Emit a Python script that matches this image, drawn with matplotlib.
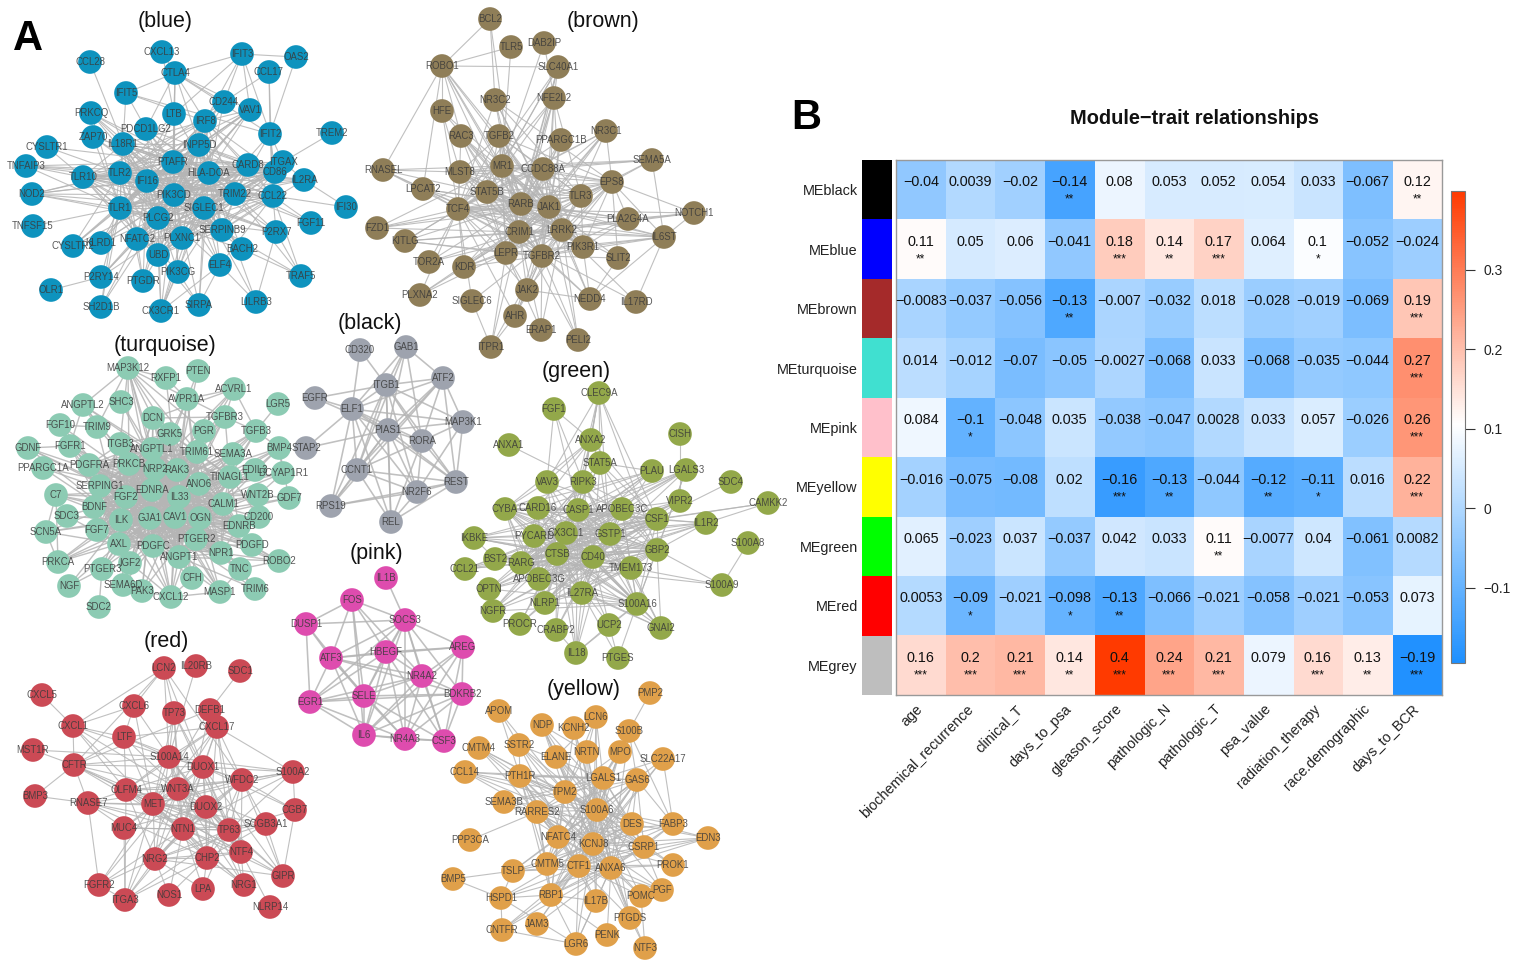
import matplotlib
matplotlib.use("Agg")
import matplotlib.pyplot as plt
import numpy as np
from matplotlib.collections import LineCollection
from matplotlib.colors import LinearSegmentedColormap, Normalize
from matplotlib.cm import ScalarMappable
from matplotlib.transforms import ScaledTranslation

plt.rcParams['font.family'] = ['Liberation Sans', 'DejaVu Sans']
W, H = 1514, 967

# ---------------------------------------------------------------- panel B data
traits = ["age", "biochemical_recurrence", "clinical_T", "days_to_psa", "gleason_score", "pathologic_N",
          "pathologic_T", "psa_value", "radiation_therapy", "race.demographic", "days_to_BCR"]
modules = ["MEblack", "MEblue", "MEbrown", "MEturquoise", "MEpink", "MEyellow", "MEgreen", "MEred", "MEgrey"]
module_colors = ["#000000", "#0000FF", "#A52A2A", "#40E0D0", "#FFC0CB", "#FFFF00", "#00FF00", "#FF0000", "#BEBEBE"]
corr = [
    [-0.04, 0.0039, -0.02, -0.14, 0.08, 0.053, 0.052, 0.054, 0.033, -0.067, 0.12],
    [0.11, 0.05, 0.06, -0.041, 0.18, 0.14, 0.17, 0.064, 0.1, -0.052, -0.024],
    [-0.0083, -0.037, -0.056, -0.13, -0.007, -0.032, 0.018, -0.028, -0.019, -0.069, 0.19],
    [0.014, -0.012, -0.07, -0.05, -0.0027, -0.068, 0.033, -0.068, -0.035, -0.044, 0.27],
    [0.084, -0.1, -0.048, 0.035, -0.038, -0.047, 0.0028, 0.033, 0.057, -0.026, 0.26],
    [-0.016, -0.075, -0.08, 0.02, -0.16, -0.13, -0.044, -0.12, -0.11, 0.016, 0.22],
    [0.065, -0.023, 0.037, -0.037, 0.042, 0.033, 0.11, -0.0077, 0.04, -0.061, 0.0082],
    [0.0053, -0.09, -0.021, -0.098, -0.13, -0.066, -0.021, -0.058, -0.021, -0.053, 0.073],
    [0.16, 0.2, 0.21, 0.14, 0.4, 0.24, 0.21, 0.079, 0.16, 0.13, -0.19],
]
stars = [
    ["", "", "", "**", "", "", "", "", "", "", "**"],
    ["**", "", "", "", "***", "**", "***", "", "*", "", ""],
    ["", "", "", "**", "", "", "", "", "", "", "***"],
    ["", "", "", "", "", "", "", "", "", "", "***"],
    ["", "*", "", "", "", "", "", "", "", "", "***"],
    ["", "", "", "", "***", "**", "", "**", "*", "", "***"],
    ["", "", "", "", "", "", "**", "", "", "", ""],
    ["", "*", "", "*", "**", "", "", "", "", "", ""],
    ["***", "***", "***", "**", "***", "***", "***", "", "***", "**", "***"],
]
cbar_ticks = [-0.1, 0, 0.1, 0.2, 0.3]
cbar_range = (-0.195, 0.399)
cbar_white = 0.105

# ---------------------------------------------------------------- panel A data
blue_names = "CCL28 CXCL13 IFIT3 OAS2 CTLA4 CCL17 IFIT5 CD244 VAV1 PRKCQ LTB IRF8 PDCD1LG2 IFIT2 TREM2 ZAP70 IL18R1 INPP5D CYSLTR1 TNFAIP3 PTAFR CARD8 ITGAX CD86 TLR10 TLR2 IFI16 HLA-DOA IL2RA NOD2 PIK3CD TRIM22 CCL22 TLR1 SIGLEC1 IFI30 PLCG2 FGF11 TNFSF15 SERPINB9 P2RX7 NFATC2 PLXNC1 KLRD1 CYSLTR2 BACH2 UBD ELF4 P2RY14 PIK3CG PTGDR TRAF5 OLR1 SH2D1B SIRPA LILRB3 CX3CR1".split()
blue_x = [90, 162, 242, 296, 175, 269, 126, 224, 250, 91, 174, 205, 146, 270, 332, 93, 123, 199, 47, 26, 173, 248, 283, 275, 83, 120, 147, 209, 304, 32, 174, 235, 273, 120, 204, 346, 158, 311, 33, 222, 276, 137, 182, 101, 73, 242, 158, 220, 101, 178, 143, 301, 51, 101, 199, 256, 161]
blue_y = [62, 52, 54, 57, 73, 72, 93, 102, 110, 113, 114, 121, 129, 134, 133, 137, 144, 145, 147, 166, 162, 165, 162, 172, 177, 173, 181, 173, 180, 194, 195, 194, 196, 208, 208, 207, 218, 223, 226, 230, 232, 239, 238, 243, 246, 249, 255, 265, 277, 272, 281, 276, 290, 307, 305, 302, 311]
blue_core = "TLR2 IFI16 PTAFR HLA-DOA PIK3CD TRIM22 TLR1 PLCG2 SIGLEC1 SERPINB9 PLXNC1 NFATC2 UBD INPP5D CARD8 CD86 IL18R1 IRF8 CCL22 TLR10".split()
blue_links = {
    "CCL28": "IL18R1", "CXCL13": "CTLA4 LTB", "IFIT3": "OAS2 CTLA4 VAV1 CD244 IFIT2 LTB IRF8", "OAS2": "IFIT2",
    "CTLA4": "IFIT5 LTB IRF8 PTAFR CD244 VAV1 PDCD1LG2 IFIT2 PIK3CD HLA-DOA", "CCL17": "CD244 IFIT2 CCL22",
    "IFIT5": "PDCD1LG2 IL18R1 IFIT2 IRF8", "CD244": "IRF8 PIK3CD TLR1 HLA-DOA PTAFR TLR2",
    "VAV1": "IFI16 PTAFR PIK3CD TLR1 TLR2 HLA-DOA PLCG2 NFATC2 IRF8 INPP5D", "PRKCQ": "PTAFR PIK3CD IFI16 TLR1 HLA-DOA SIGLEC1",
    "LTB": "PTAFR PIK3CD IFI16 HLA-DOA TLR1 TLR2", "PDCD1LG2": "PTAFR PIK3CD HLA-DOA SIGLEC1 PLCG2 TRIM22 CARD8",
    "IFIT2": "TRIM22 CCL22 ITGAX CD86 SIGLEC1", "TREM2": "ITGAX", "ZAP70": "PTAFR PIK3CD SIGLEC1 HLA-DOA TLR1",
    "CYSLTR1": "TLR1 TLR2 PTAFR", "TNFAIP3": "TLR2 TLR1 IFI16 PTAFR PIK3CD HLA-DOA",
    "ITGAX": "HLA-DOA SIGLEC1 PIK3CD PTAFR TRIM22 IFI16 TLR1 IL2RA", "IL2RA": "HLA-DOA PIK3CD PTAFR IFI16 TRIM22 SERPINB9 IFI30",
    "NOD2": "TLR1 TLR2 PIK3CD IFI16 PTAFR HLA-DOA PLCG2 SIGLEC1", "IFI30": "CCL22", "FGF11": "TRIM22 CCL22 HLA-DOA",
    "TNFSF15": "TLR1", "P2RX7": "SIGLEC1 PIK3CD TRIM22 IFI16 TRAF5 PLCG2 PTAFR CCL22",
    "KLRD1": "TLR1 PIK3CD PTAFR IFI16 PLCG2 HLA-DOA", "CYSLTR2": "TLR1 TLR2 PIK3CD IFI16 PTAFR",
    "BACH2": "TRAF5 SIGLEC1 PIK3CD PTAFR HLA-DOA TLR1", "ELF4": "PIK3CD PTAFR HLA-DOA SIGLEC1 TLR2 CCL22 LILRB3 SIRPA",
    "P2RY14": "NFATC2 TLR1 PLCG2 PIK3CD SIGLEC1 OLR1", "PIK3CG": "PIK3CD PTAFR HLA-DOA TLR1 IFI16 CARD8 SIRPA CX3CR1",
    "PTGDR": "NFATC2 PLCG2 PIK3CD TLR2 IFI16 HLA-DOA", "TRAF5": "SERPINB9 TRIM22 CCL22", "SH2D1B": "TLR1 NFATC2 TLR2 PIK3CD",
    "SIRPA": "SIGLEC1 PIK3CD HLA-DOA UBD", "LILRB3": "P2RX7 HLA-DOA SIGLEC1", "CX3CR1": "PLXNC1 UBD PLCG2 SIGLEC1 PIK3CD HLA-DOA ELF4",
}

brown_names = "BCL2 TLR5 DAB2IP ROBO1 SLC40A1 NR3C2 NFE2L2 HFE RAC3 TGFB2 PPARGC1B NR3C1 RNASEL MLST8 MR1 CCDC88A SEMA5A EPS8 LPCAT2 STAT5B TLR3 TCF4 RARB JAK1 NOTCH1 PLA2G4A FZD1 KITLG CRIM1 LRRK2 IL6ST PIK3R1 LEPR TGFBR2 SLIT2 TOR2A KDR JAK2 PLXNA2 SIGLEC6 NEDD4 IL17RD AHR ERAP1 PELI2 ITPR1".split()
brown_x = [490, 511, 544, 442, 558, 495, 554, 442, 461, 499, 561, 606, 383, 460, 502, 543, 652, 612, 423, 487, 581, 458, 521, 549, 694, 628, 377, 405, 519, 562, 664, 583, 506, 542, 618, 429, 464, 527, 420, 472, 590, 636, 515, 541, 578, 491]
brown_y = [19, 47, 43, 66, 67, 100, 98, 111, 136, 136, 140, 131, 170, 172, 166, 169, 160, 182, 189, 192, 196, 209, 204, 207, 213, 219, 228, 241, 232, 230, 237, 247, 253, 256, 258, 262, 267, 290, 295, 301, 299, 302, 316, 330, 340, 347]
brown_core = "MR1 CCDC88A STAT5B RARB JAK1 TLR3 TCF4 CRIM1 LRRK2 LEPR TGFBR2 PIK3R1 EPS8 MLST8 TGFB2".split()
brown_links = {
    "BCL2": "ROBO1 NR3C2 CRIM1", "TLR5": "ROBO1 MR1", "DAB2IP": "MR1 NFE2L2", "ROBO1": "SLC40A1 RNASEL HFE LPCAT2 RARB CRIM1 MR1 JAK1 TGFB2 RAC3",
    "SLC40A1": "MR1 RARB STAT5B TCF4 CRIM1 LEPR NFE2L2", "NR3C2": "RARB JAK1 TLR3 TCF4 EPS8 CRIM1 LRRK2",
    "NFE2L2": "TCF4 STAT5B RARB JAK1 LRRK2 CRIM1 LEPR TGFBR2 TLR3", "HFE": "TCF4 MLST8 JAK1 RARB",
    "RAC3": "RARB JAK1 CRIM1 LRRK2 LEPR TGFBR2 TCF4", "PPARGC1B": "RARB JAK1 CRIM1 TCF4 LEPR TGFBR2",
    "NR3C1": "EPS8 STAT5B TCF4 RARB JAK1 CRIM1 LRRK2 LEPR", "RNASEL": "MLST8 MR1 TCF4 LPCAT2 JAK1 CRIM1",
    "SEMA5A": "MR1 EPS8 TLR3 CCDC88A MLST8 IL6ST", "LPCAT2": "TCF4 RARB CRIM1 LRRK2 JAK1", "NOTCH1": "EPS8 LRRK2 TCF4 PLA2G4A IL6ST CRIM1",
    "PLA2G4A": "EPS8 JAK1 LRRK2 TCF4 RARB TGFBR2 PIK3R1", "FZD1": "TCF4 RARB JAK1 MR1 CRIM1", "KITLG": "TCF4 CRIM1 RARB LRRK2 LEPR TGFBR2 STAT5B",
    "IL6ST": "EPS8 LRRK2 TCF4 JAK1 CRIM1 TGFBR2 LEPR PIK3R1 RARB NEDD4", "SLIT2": "EPS8 TGFBR2 LRRK2 JAK1 NEDD4", "TOR2A": "TCF4 LRRK2 RARB CRIM1",
    "KDR": "LEPR TGFBR2 JAK1 TCF4 CRIM1 LRRK2 RARB", "JAK2": "TGFBR2 LEPR CRIM1 JAK1 TCF4 NEDD4 AHR EPS8", "PLXNA2": "TCF4 LEPR CRIM1 JAK1",
    "SIGLEC6": "TCF4 LRRK2 ITPR1", "NEDD4": "LRRK2 TGFBR2 JAK1 CRIM1 PIK3R1", "IL17RD": "LRRK2 TCF4 IL6ST", "AHR": "TGFBR2 TCF4 LRRK2 ITPR1 JAK1",
    "ERAP1": "TGFBR2 LEPR CRIM1 LRRK2", "PELI2": "TGFBR2 LRRK2 JAK1 CRIM1", "ITPR1": "LEPR TGFBR2 CRIM1",
}

turq_names = "MAP3K12 PTEN RXFP1 ACVRL1 AVPR1A SHC3 LGR5 ANGPTL2 DCN TGFBR3 FGF10 TRIM9 PGR TGFB3 GRK5 ITGB3 FGFR1 GDNF ANGPTL1 BMP4 TRIM61 SEMA3A PPARGC1A PDGFRA PRKCB NRP2 RAK3 EDIL3 DCYAP1R1 TINAGL1 ANO6 SERPING1 EDNRA C7 WNT2B IL33 FGF2 GDF7 CALM1 BDNF SDC3 CAV1 GJA1 OGN ILK CD200 EDNRB SCN5A FGF7 PTGER2 AXL PDGFC PDGFD NPR1 ANGPT1 PRKCA ROBO2 IGF2 TNC PTGER3 CFH NGF SEMA6D TRIM6 PAK3 MASP1 CXCL12 SDC2".split()
turq_x = [128, 198, 166, 234, 187, 121, 278, 83, 153, 225, 60, 97, 204, 256, 170, 120, 70, 28, 152, 279, 197, 233, 43, 89, 129, 155, 177, 255, 283, 230, 199, 100, 152, 56, 258, 179, 126, 289, 223, 94, 67, 175, 150, 200, 121, 259, 239, 46, 97, 196, 119, 153, 252, 221, 179, 58, 279, 130, 240, 102, 192, 69, 123, 255, 142, 220, 171, 99]
turq_y = [368, 371, 378, 389, 399, 402, 404, 405, 418, 417, 425, 427, 431, 431, 434, 444, 446, 448, 449, 448, 452, 454, 468, 465, 464, 469, 470, 470, 473, 477, 484, 486, 490, 495, 495, 497, 497, 498, 504, 507, 516, 517, 518, 518, 520, 517, 526, 532, 530, 539, 544, 546, 545, 553, 557, 562, 561, 563, 569, 569, 578, 586, 585, 589, 591, 592, 597, 607]
turq_core = "ITGB3 ANGPTL1 PRKCB NRP2 RAK3 EDNRA IL33 FGF2 ANO6 TINAGL1 CALM1 BDNF CAV1 GJA1 OGN ILK PTGER2 AXL PDGFC NPR1 ANGPT1 TRIM61 GRK5 SERPING1 PDGFRA FGF7 EDNRB".split()
turq_links = {
    "MAP3K12": "RXFP1 DCN ANGPTL1 GRK5 ITGB3 PRKCB NRP2 TRIM9 ANGPTL2 TRIM61 TGFBR3 EDNRA PGR", "PTEN": "AVPR1A RAK3", "RXFP1": "AVPR1A IL33",
    "ACVRL1": "TGFBR3 AVPR1A DCN EDNRA NRP2 TRIM61 TGFB3", "AVPR1A": "EDNRA CAV1 ANO6 NRP2 RAK3 OGN", "SHC3": "NRP2 IL33", "LGR5": "TGFB3",
    "ANGPTL2": "ANGPTL1 TRIM9 FGFR1 EDNRA CAV1 RAK3", "DCN": "EDNRA IL33 CAV1 OGN FGF2 GJA1 TGFBR3 ILK",
    "TGFBR3": "EDNRA IL33 CAV1 TINAGL1 ILK FGF2 TGFB3 GJA1", "FGF10": "FGFR1 EDNRA FGF2 ILK TRIM9 AXL", "TRIM9": "EDNRA ILK",
    "PGR": "EDNRA CAV1 IL33 GJA1 TINAGL1", "TGFB3": "EDNRA IL33 CAV1 OGN ILK BMP4 TINAGL1", "FGFR1": "GDNF EDNRA FGF2 ILK IL33 CAV1 PDGFRA",
    "GDNF": "EDNRA FGF2 ILK CAV1", "BMP4": "EDNRA IL33 TINAGL1 CALM1 OGN GDF7 DCYAP1R1", "SEMA3A": "EDNRA IL33 CAV1 ILK FGF2",
    "PPARGC1A": "EDNRA FGF2 ILK", "EDIL3": "EDNRA CAV1 OGN ILK", "DCYAP1R1": "EDNRA CAV1 IL33 WNT2B", "C7": "FGF2 EDNRA ILK CAV1 GJA1 PRKCA",
    "WNT2B": "CAV1 EDNRA IL33 OGN ILK GDF7", "GDF7": "CAV1 OGN", "SDC3": "ILK AXL EDNRA", "CD200": "OGN CAV1 EDNRA ILK TINAGL1",
    "SCN5A": "ILK AXL EDNRA PRKCA GJA1 C7", "PDGFD": "OGN CAV1 GJA1 ILK PDGFC ROBO2", "PRKCA": "AXL ILK GJA1 CAV1 EDNRA",
    "ROBO2": "NPR1 ANGPT1 OGN CAV1 GJA1 TNC", "IGF2": "CAV1 GJA1 ILK EDNRA OGN PTGER3 CXCL12", "TNC": "PTGER2 OGN CAV1 GJA1 MASP1 TRIM6",
    "PTGER3": "ILK CAV1 GJA1 EDNRA AXL SDC2", "CFH": "CAV1 OGN GJA1 EDNRA IL33 ILK CXCL12", "NGF": "AXL ILK PTGER3", "SEMA6D": "GJA1 CAV1 ILK EDNRA",
    "TRIM6": "NPR1 OGN ANGPT1 GJA1", "PAK3": "GJA1 CAV1 OGN EDNRA CXCL12", "MASP1": "CAV1 OGN GJA1 ILK EDNRA CXCL12 PTGER2",
    "CXCL12": "CAV1 GJA1 ILK OGN EDNRA ANGPT1 IL33 FGF2",
}

black_names = "CD320 GAB1 ATF2 ITGB1 EGFR ELF1 MAP3K1 PIAS1 RORA STAP2 CCNT1 REST NR2F6 RPS19 REL".split()
black_x = [360, 406, 443, 386, 315, 352, 463, 388, 422, 306, 357, 456, 417, 331, 391]
black_y = [350, 347, 378, 385, 398, 409, 422, 430, 441, 448, 470, 482, 492, 506, 522]
black_core = []
black_links = {
    "CD320": "ITGB1 ELF1", "GAB1": "ITGB1 ELF1 PIAS1 CCNT1 ATF2 RORA", "ATF2": "ITGB1 ELF1 MAP3K1 PIAS1 RORA REST CCNT1 RPS19",
    "ITGB1": "EGFR ELF1 MAP3K1 PIAS1 RORA REST NR2F6 CCNT1 RPS19 REL", "EGFR": "ELF1 PIAS1", "ELF1": "MAP3K1 PIAS1 RORA REST NR2F6 CCNT1 RPS19 REL STAP2",
    "MAP3K1": "PIAS1 RORA REST NR2F6", "PIAS1": "RORA REST NR2F6 CCNT1 RPS19 REL STAP2", "RORA": "REST NR2F6 REL CCNT1",
    "CCNT1": "REST NR2F6 RPS19 REL", "REST": "NR2F6 RPS19 REL", "NR2F6": "RPS19 REL",
}

pink_names = "IL1B FOS DUSP1 SOCS3 AREG ATF3 HBEGF NR4A2 BDKRB2 EGR1 SELE IL6 NR4A3 CSF3".split()
pink_x = [386, 352, 306, 405, 463, 331, 386, 422, 462, 310, 364, 364, 405, 444]
pink_y = [578, 600, 624, 620, 647, 658, 652, 676, 694, 702, 696, 735, 739, 741]
pink_core = []
pink_links = {
    "IL1B": "SOCS3", "FOS": "DUSP1 SOCS3 ATF3 SELE HBEGF NR4A2 IL6", "DUSP1": "SOCS3 ATF3 EGR1 SELE",
    "SOCS3": "ATF3 HBEGF AREG NR4A2 BDKRB2 SELE IL6 NR4A3 CSF3 EGR1", "AREG": "ATF3 HBEGF NR4A2 BDKRB2 IL6 NR4A3 CSF3",
    "ATF3": "HBEGF NR4A2 SELE EGR1 IL6 NR4A3 BDKRB2", "HBEGF": "NR4A2 EGR1 SELE IL6 NR4A3 CSF3", "NR4A2": "BDKRB2 EGR1 SELE IL6 NR4A3 CSF3",
    "BDKRB2": "EGR1 SELE IL6 NR4A3 CSF3", "EGR1": "SELE IL6 NR4A3", "SELE": "IL6 NR4A3 CSF3", "IL6": "NR4A3 CSF3", "NR4A3": "CSF3",
}

green_names = "CLEC9A FGF1 CISH ANXA2 ANXA1 STAT5A PLAU LGALS3 VAV3 RIPK3 SDC4 VIPR2 CAMKK2 CYBA CARD16 CASP1 APOBEC3C CSF1 IL1R2 IKBKE PYCARD CX3CL1 GSTP1 S100A8 GBP2 BST2 CTSB CD40 CCL21 RARG TMEM173 APOBEC3G S100A9 OPTN IL27RA NLRP1 S100A16 NGFR PROCR UCP2 GNAI2 CRABP2 IL18 PTGES".split()
green_x = [599, 554, 680, 591, 509, 600, 652, 686, 547, 583, 731, 680, 768, 505, 538, 578, 622, 657, 706, 474, 534, 566, 610, 748, 657, 495, 557, 593, 465, 521, 631, 539, 722, 489, 582, 545, 637, 493, 520, 609, 661, 556, 576, 618]
green_y = [393, 409, 434, 440, 445, 463, 471, 470, 482, 482, 482, 501, 503, 509, 508, 510, 509, 519, 523, 538, 536, 533, 534, 543, 550, 559, 554, 557, 569, 563, 568, 579, 585, 589, 593, 603, 604, 611, 624, 625, 628, 630, 653, 658]
green_core = "CASP1 APOBEC3C CSF1 PYCARD CX3CL1 GSTP1 GBP2 CTSB CD40 RARG TMEM173 APOBEC3G IL27RA NLRP1 S100A16 CARD16 CYBA".split()
green_links = {
    "CLEC9A": "ANXA2 STAT5A RIPK3 CX3CL1 CASP1 VAV3 CSF1 GSTP1 GBP2", "FGF1": "VAV3 RIPK3 ANXA2 CASP1", "CISH": "VIPR2",
    "ANXA2": "STAT5A VAV3 RIPK3 CX3CL1 CARD16 CASP1 CSF1 CYBA", "ANXA1": "RIPK3", "STAT5A": "PLAU CASP1 CSF1 CX3CL1 GSTP1 CD40 GBP2 PYCARD",
    "PLAU": "CYBA CARD16 GSTP1 CX3CL1 CASP1 CTSB RARG", "LGALS3": "CX3CL1 CTSB CASP1 CD40 RARG PYCARD GBP2 S100A16",
    "VAV3": "CYBA CX3CL1 GSTP1 CTSB CD40 APOBEC3C", "RIPK3": "CSF1 GSTP1 CD40 CYBA CTSB PYCARD RARG S100A16 GBP2 TMEM173", "SDC4": "CSF1",
    "VIPR2": "CD40 CTSB GSTP1 RARG CX3CL1 APOBEC3C", "CAMKK2": "IL1R2 CSF1 CX3CL1", "IL1R2": "CSF1 GBP2 CX3CL1 GSTP1 CTSB CD40 APOBEC3G CYBA",
    "IKBKE": "BST2 CTSB CX3CL1 GSTP1 CD40 CASP1 APOBEC3C TMEM173 GBP2", "S100A8": "S100A9", "S100A9": "TMEM173 GBP2 RARG",
    "BST2": "GSTP1 CTSB CD40 TMEM173 GBP2", "CCL21": "CTSB CX3CL1 CD40 GBP2 CSF1 APOBEC3C", "OPTN": "CTSB CX3CL1 GSTP1 CD40 GBP2 CASP1 S100A16",
    "NGFR": "CX3CL1 CTSB CD40 S100A16 CASP1 GBP2 CSF1", "PROCR": "CTSB CD40 NLRP1 CX3CL1", "UCP2": "CD40 CX3CL1 S100A16 PTGES CTSB IL18",
    "GNAI2": "S100A16 CD40 GSTP1 CX3CL1 GBP2 CTSB IL27RA RARG TMEM173", "CRABP2": "CTSB CD40 GSTP1 CX3CL1 IL18",
    "IL18": "CD40 CX3CL1 GSTP1 CTSB CASP1 S100A16 IL27RA", "PTGES": "S100A16 IL27RA",
}

red_names = "LCN2 IL20RB SDC1 CXCL5 CXCL6 TP73 DEFB1 CXCL1 CXCL17 LTF MST1R S100A14 CFTR DUOX1 S100A2 WFDC2 OLFM4 WNT3A BMP3 RNASE7 MET DUOX2 CGB7 SCGB3A1 MUC4 NTN1 TP63 NTF4 NRG2 CHP2 GIPR FGFR2 NRG1 LPA NOS1 ITGA3 NLRP14".split()
red_x = [164, 196, 240, 42, 134, 174, 210, 73, 217, 124, 33, 169, 74, 203, 293, 242, 126, 178, 35, 88, 153, 206, 295, 266, 124, 183, 229, 241, 155, 207, 283, 99, 244, 203, 169, 125, 270]
red_y = [668, 666, 671, 695, 706, 713, 710, 726, 727, 737, 750, 757, 765, 767, 772, 780, 790, 789, 796, 803, 804, 807, 810, 824, 828, 829, 830, 852, 859, 858, 876, 885, 885, 889, 895, 900, 907]
red_core = "S100A14 DUOX1 WNT3A MET DUOX2 NTN1 TP63 OLFM4 WFDC2 NTF4 NRG2 CHP2".split()
red_links = {
    "LCN2": "CXCL1 CXCL6 CFTR TP73 S100A14 DUOX1 WFDC2", "IL20RB": "S100A14", "SDC1": "DEFB1", "CXCL5": "CXCL1", "CXCL6": "LTF CXCL1 S100A14 MET",
    "TP73": "S100A14 WNT3A DUOX1 MET NTN1 TP63", "DEFB1": "CXCL17 CFTR NTN1 MET", "CXCL1": "LTF S100A14 CFTR OLFM4 WNT3A MET",
    "CXCL17": "LTF S100A14 DUOX1 WNT3A WFDC2 S100A2 TP63 NTN1 MET NTF4 OLFM4 CHP2", "LTF": "S100A14 OLFM4 DUOX1 WNT3A CFTR MET", "MST1R": "S100A14 CFTR",
    "CFTR": "BMP3 S100A14 DUOX1 RNASE7 MET OLFM4 WNT3A NTN1 TP63", "S100A2": "DUOX1 WFDC2 S100A14 TP63 CGB7 WNT3A MET NTN1", "BMP3": "RNASE7",
    "RNASE7": "OLFM4 MET MUC4 WNT3A NTN1 FGFR2 TP63 DUOX2 CHP2", "CGB7": "WFDC2 DUOX1 GIPR TP63", "SCGB3A1": "NTN1 TP63 MET WFDC2 GIPR WNT3A NRG2 CHP2",
    "MUC4": "NTN1 WNT3A MET DUOX2 TP63 ITGA3", "GIPR": "TP63 NTN1 DUOX2 NTF4 DUOX1 NRG2 WFDC2", "FGFR2": "NRG2 MET WNT3A NTN1 ITGA3",
    "NRG1": "NTN1 TP63 NTF4 MET WNT3A CHP2 DUOX2", "LPA": "NTN1 CHP2 NRG2 TP63", "NOS1": "NTN1 NRG2 CHP2", "ITGA3": "NTN1 WNT3A MET NRG2 CHP2 TP63 OLFM4",
    "NLRP14": "NTF4",
}

yellow_names = "PMP2 APOM LCN6 NDP KCNH2 S100B SSTR2 CMTM4 NRTN MPO ELANE SLC22A17 CCL14 PTH1R LGALS1 GAS6 TPM2 SEMA3B RARRES2 S100A6 DES FABP3 NFATC4 EDN3 PPP3CA KCNJ8 CSRP1 CMTM5 PROK1 CTF1 ANXA6 TSLP BMP5 PGF RBP1 POMC HSPD1 IL17B PTGDS JAM3 CNTFR PENK LGR6 NTF3".split()
yellow_x = [650, 499, 596, 542, 574, 629, 519, 479, 587, 620, 556, 663, 465, 520, 603, 637, 565, 504, 537, 597, 632, 673, 558, 708, 470, 593, 644, 547, 673, 579, 611, 513, 453, 662, 551, 641, 501, 596, 630, 537, 502, 607, 576, 645]
yellow_y = [693, 711, 717, 725, 728, 731, 745, 748, 752, 752, 757, 759, 772, 776, 778, 780, 792, 802, 812, 810, 824, 824, 837, 838, 840, 844, 847, 864, 865, 866, 868, 871, 879, 890, 895, 896, 898, 901, 918, 924, 930, 935, 944, 948]
yellow_core = "LGALS1 TPM2 S100A6 DES NFATC4 KCNJ8 CSRP1 CTF1 ANXA6 RARRES2 PTH1R GAS6 CMTM5 RBP1".split()
yellow_links = {
    "PMP2": "S100B", "APOM": "SSTR2 PTH1R TPM2", "LCN6": "NRTN TPM2 S100A6 KCNJ8 ELANE LGALS1", "NDP": "ELANE TPM2 S100A6 KCNJ8 ANXA6 DES NRTN",
    "KCNH2": "TPM2 S100A6 KCNJ8 ANXA6", "S100B": "S100A6 LGALS1 ANXA6 FABP3 GAS6", "SSTR2": "PTH1R TPM2 S100A6 KCNJ8 CTF1 LGALS1",
    "CMTM4": "PTH1R TPM2 S100A6 KCNJ8 NFATC4", "NRTN": "S100A6 KCNJ8 ANXA6 TPM2 CTF1", "MPO": "TPM2 S100A6 KCNJ8 CTF1 CMTM5 NFATC4",
    "ELANE": "S100A6 KCNJ8 ANXA6 CSRP1 DES", "SLC22A17": "LGALS1 S100A6 KCNJ8 CTF1 FABP3", "CCL14": "PTH1R LGALS1 TPM2 S100A6 KCNJ8 CSRP1",
    "SEMA3B": "RARRES2 KCNJ8 S100A6 TPM2 ANXA6 LGALS1", "FABP3": "GAS6 ANXA6 KCNJ8 CSRP1 S100A6 CTF1 NFATC4", "EDN3": "CSRP1 KCNJ8 ANXA6 CTF1 S100A6 DES",
    "PPP3CA": "RARRES2", "PROK1": "CSRP1 ANXA6 KCNJ8 CTF1 S100A6", "TSLP": "BMP5 CMTM5 CTF1 ANXA6 KCNJ8 NFATC4 S100A6 HSPD1", "BMP5": "HSPD1",
    "PGF": "ANXA6 KCNJ8 S100A6 CTF1 CSRP1", "POMC": "ANXA6 KCNJ8 S100A6 CTF1 NTF3", "HSPD1": "RBP1 CTF1 ANXA6 LGR6 KCNJ8 CNTFR",
    "IL17B": "ANXA6 KCNJ8 S100A6 CTF1 LGR6 RBP1 PTH1R", "PTGDS": "ANXA6 KCNJ8 S100A6 CTF1 NTF3 LGALS1", "JAM3": "CTF1 ANXA6 KCNJ8",
    "CNTFR": "LGR6 RBP1 CTF1 ANXA6", "PENK": "RBP1 ANXA6", "LGR6": "RBP1 CTF1 ANXA6 KCNJ8", "NTF3": "ANXA6",
}

networks = [
    (blue_names, blue_x, blue_y, blue_core, blue_links, "#0E93BE", 0.8),
    (brown_names, brown_x, brown_y, brown_core, brown_links, "#8F7E58", 0.8),
    (turq_names, turq_x, turq_y, turq_core, turq_links, "#8CCBB3", 1.0),
    (black_names, black_x, black_y, black_core, black_links, "#9EA3AE", 1.15),
    (pink_names, pink_x, pink_y, pink_core, pink_links, "#DE4CAE", 1.15),
    (green_names, green_x, green_y, green_core, green_links, "#93A84A", 0.8),
    (red_names, red_x, red_y, red_core, red_links, "#CB4A55", 0.8),
    (yellow_names, yellow_x, yellow_y, yellow_core, yellow_links, "#E0A04A", 0.8),
]
network_titles = ["(blue)", "(brown)", "(turquoise)", "(black)", "(green)", "(pink)", "(red)", "(yellow)"]
title_x = [165, 603, 165, 370, 576, 376, 166, 584]
title_y = [22, 22, 346, 323, 371, 554, 641, 690]

# ---------------------------------------------------------------- drawing
fig = plt.figure(figsize=(W / 100, H / 100), dpi=100, facecolor="white")
ax = fig.add_axes([0, 0, 1, 1])
ax.set_xlim(0, W)
ax.set_ylim(H, 0)
ax.axis("off")

for names, xs, ys, core, links, color, lw in networks:
    pos = {n: (x, y) for n, x, y in zip(names, xs, ys)}
    segs = []
    for i, a in enumerate(core):
        for b in core[i + 1:]:
            segs.append((pos[a], pos[b]))
    for a, targets in links.items():
        for b in targets.split():
            segs.append((pos[a], pos[b]))
    ax.add_collection(LineCollection(segs, colors="#b5b5b5", linewidths=lw, alpha=0.85, zorder=1))
    ax.scatter(xs, ys, s=290, c=color, edgecolors="none", zorder=2)
    for n, x, y in zip(names, xs, ys):
        ax.text(x, y, n, fontsize=6.9, color="#3a3a3a", alpha=0.85, ha="center", va="center", zorder=3)

for t, x, y in zip(network_titles, title_x, title_y):
    ax.text(x, y, t, fontsize=15.5, color="#111111", ha="center", va="center", zorder=4)

ax.text(13, 39, "A", fontsize=30, fontweight="bold", ha="left", va="center", zorder=4)
ax.text(791, 118, "B", fontsize=30, fontweight="bold", ha="left", va="center", zorder=4)
ax.text(1195, 118, "Module\u2212trait relationships", fontsize=14.4, fontweight="bold", ha="center", va="center", color="#111111")


def axes_px(x0, y0, x1, y1):
    return fig.add_axes([x0 / W, 1 - y1 / H, (x1 - x0) / W, (y1 - y0) / H])


white_pos = (cbar_white - cbar_range[0]) / (cbar_range[1] - cbar_range[0])
cmap = LinearSegmentedColormap.from_list("bwo", [(0, "#1E90FF"), (white_pos, "#FFFFFF"), (1, "#FF3A00")])
norm = Normalize(vmin=cbar_range[0], vmax=cbar_range[1])

hm = axes_px(896, 160, 1442, 695)
data = np.array(corr)
hm.imshow(data, cmap=cmap, norm=norm, aspect="auto", interpolation="nearest")
for i, row in enumerate(corr):
    for j, v in enumerate(row):
        label = str(v).replace("-", "\u2212")
        hm.text(j, i - 0.125, label, fontsize=10.4, ha="center", va="center", color="#111111")
        if stars[i][j]:
            hm.text(j, i + 0.17, stars[i][j], fontsize=8.5, ha="center", va="center", color="#111111")
hm.set_xticks(range(len(traits)))
hm.set_xticklabels(traits, rotation=45, ha="right", va="top", rotation_mode="anchor", fontsize=10.4, color="#222222")
hm.set_yticks([])
hm.tick_params(axis="x", length=0, pad=5)
shift = ScaledTranslation(-5 / 100, 0, fig.dpi_scale_trans)
for lab in hm.get_xticklabels():
    lab.set_transform(lab.get_transform() + shift)
for s in hm.spines.values():
    s.set_color("#999999")
    s.set_linewidth(1.0)

side = axes_px(862, 160, 892, 695)
for i, c in enumerate(module_colors):
    side.barh(i, 1, height=1, color=c, edgecolor="none")
side.set_xlim(0, 1)
side.set_ylim(len(modules) - 0.5, -0.5)
side.set_xticks([])
side.set_yticks(range(len(modules)))
side.set_yticklabels(modules, fontsize=10.4, color="#222222")
side.tick_params(axis="y", length=0, pad=3)
for s in side.spines.values():
    s.set_visible(False)

cax = axes_px(1451, 191, 1465, 663)
sm = ScalarMappable(norm=norm, cmap=cmap)
cb = fig.colorbar(sm, cax=cax)
cb.set_ticks(cbar_ticks)
cb.set_ticklabels([str(t).replace("-", "\u2212") for t in cbar_ticks])
cb.ax.tick_params(length=7, width=0.8, labelsize=10, pad=6, color="#333333", labelcolor="#222222")
cb.outline.set_edgecolor("#777777")
cb.outline.set_linewidth(0.8)
cb.minorticks_off()

fig.savefig("out.png", dpi=100, facecolor="white")
